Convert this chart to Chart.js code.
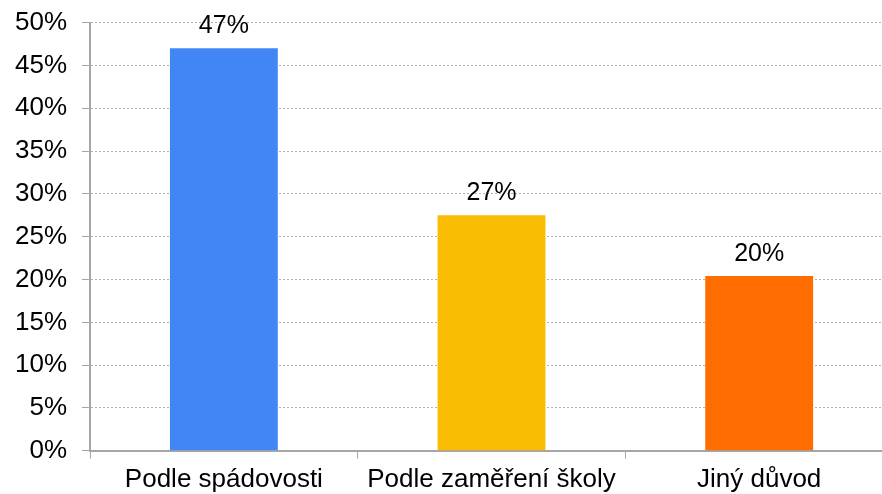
<!DOCTYPE html>
<html>
<head>
<meta charset="utf-8">
<script src="https://cdn.jsdelivr.net/npm/chart.js@4"></script>
<style>
  html, body { margin: 0; padding: 0; background: #fff; overflow: hidden; }
  .wrap { width: 893px; height: 505px; margin-top: -8px; }
</style>
</head>
<body>
<div class="wrap"><canvas id="myChart"></canvas></div>
<script>
// data
const categories = ["Podle spádovosti", "Podle zaměření školy", "Jiný důvod"];
const shares = [47.0, 27.5, 20.4];
const shareLabels = ["47%", "27%", "20%"];
const barColors = ["#4285f4", "#fbbc04", "#ff6d01"];

const fontFamily = "'Liberation Sans', Arial, sans-serif";

// labels above the bars
const valueLabels = {
    id: "valueLabels",
    afterDatasetsDraw(chart) {
        const ctx = chart.ctx;
        const meta = chart.getDatasetMeta(0);
        ctx.save();
        ctx.font = "25px " + fontFamily;
        ctx.fillStyle = "#000";
        ctx.textAlign = "center";
        ctx.textBaseline = "alphabetic";
        meta.data.forEach((bar, i) => {
            ctx.fillText(shareLabels[i], bar.x, bar.y - 15);
        });
        ctx.restore();
    }
};

const ctx = document.getElementById("myChart");
new Chart(ctx, {
    type: "bar",
    data: {
        labels: categories,
        datasets: [{
            data: shares,
            backgroundColor: barColors,
            barPercentage: 0.403,
            categoryPercentage: 1
        }]
    },
    options: {
        responsive: true,
        maintainAspectRatio: false,
        animation: false,
        layout: { padding: { top: 0, left: 0, right: 0, bottom: -3 } },
        plugins: {
            legend: { display: false },
            tooltip: { enabled: false }
        },
        scales: {
            x: {
                offset: true,
                grid: {
                    offset: true,
                    drawOnChartArea: false,
                    tickLength: 8,
                    color: "#a6a6a6"
                },
                border: { color: "#a6a6a6", width: 2 },
                ticks: {
                    color: "#000",
                    padding: 5,
                    font: { size: 26, family: fontFamily }
                }
            },
            y: {
                min: 0,
                max: 50,
                grid: {
                    color: "#b0b0b0",
                    tickLength: 8,
                    tickColor: "#a6a6a6",
                    tickBorderDash: [],
                    lineWidth: 1
                },
                border: { color: "#a6a6a6", width: 2, dash: [2, 2] },
                ticks: {
                    stepSize: 5,
                    color: "#000",
                    padding: 15,
                    font: { size: 26, family: fontFamily },
                    callback: v => v + "%"
                }
            }
        }
    },
    plugins: [valueLabels]
});
</script>
</body>
</html>
